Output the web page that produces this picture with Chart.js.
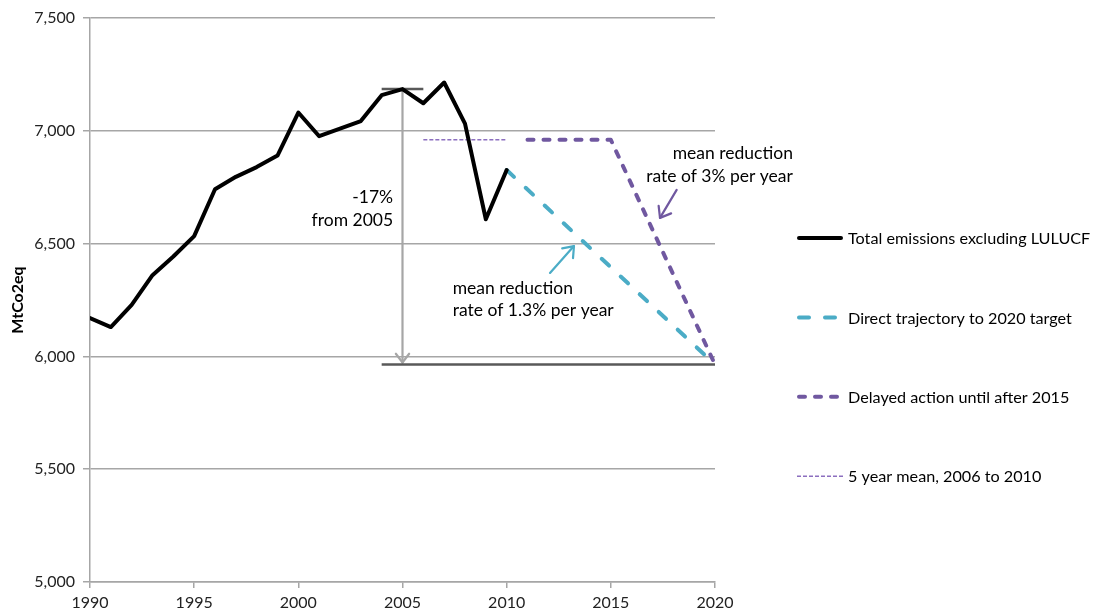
<!DOCTYPE html>
<html>
<head>
<meta charset="utf-8">
<script src="https://cdn.jsdelivr.net/npm/chart.js@4.4.1/dist/chart.umd.min.js"></script>
<style>
html,body{margin:0;padding:0;background:#fff;}
#wrap{width:1097px;height:614px;}
</style>
</head>
<body>
<div id="wrap"><canvas id="c" width="1097" height="614"></canvas></div>
<script>
// ---- data ----
const years = [1990,1991,1992,1993,1994,1995,1996,1997,1998,1999,2000,2001,2002,2003,2004,2005,2006,2007,2008,2009,2010];
const totalEmissions = [6170,6130,6228,6360,6443,6533,6741,6796,6839,6890,7081,6976,7010,7043,7158,7185,7122,7214,7032,6608,6826];
const directYears = [2010, 2020];
const directValues = [6826, 5964];
const delayedYears = [2011, 2015, 2020];
const delayedValues = [6960, 6960, 5964];
const meanYears = [2006, 2010];
const meanValues = [6960, 6960];
const baseYear = 2005;
const baseValue = 7185;
const targetValue = 5964;
const xTicks = [1990,1995,2000,2005,2010,2015,2020];
const yTicks = [5000,5500,6000,6500,7000,7500];
const seriesNames = ['Total emissions excluding LULUCF','Direct trajectory to 2020 target','Delayed action until after 2015','5 year mean, 2006 to 2010'];

const pts = (xs, ys) => xs.map((x, i) => ({x: x, y: ys[i]}));
const FONT = 'Lato, "Open Sans", sans-serif';

const datasets = [
  {label: seriesNames[0], data: pts(years, totalEmissions), borderColor: '#000000', borderWidth: 4, borderJoinStyle: 'round', borderCapStyle: 'round'},
  {label: seriesNames[1], data: pts(directYears, directValues), borderColor: '#4bacc6', borderWidth: 4, borderDash: [10, 16], borderCapStyle: 'round'},
  {label: seriesNames[2], data: pts(delayedYears, delayedValues), borderColor: '#7058a0', borderWidth: 4, borderDash: [6, 10], borderCapStyle: 'round', borderJoinStyle: 'round'},
  {label: seriesNames[3], data: pts(meanYears, meanValues), borderColor: '#8c6fbf', borderWidth: 1.5, borderDash: [4, 2]}
];
datasets.forEach(d => { d.pointRadius = 0; d.fill = false; d.tension = 0; });

function arrow(ctx, x1, y1, x2, y2, color, w, head) {
  ctx.save();
  ctx.strokeStyle = color; ctx.lineWidth = w; ctx.lineCap = 'round'; ctx.lineJoin = 'round';
  ctx.beginPath(); ctx.moveTo(x1, y1); ctx.lineTo(x2, y2); ctx.stroke();
  const a = Math.atan2(y2 - y1, x2 - x1);
  const s = 0.65;
  ctx.beginPath();
  ctx.moveTo(x2 - head * Math.cos(a - s), y2 - head * Math.sin(a - s));
  ctx.lineTo(x2, y2);
  ctx.lineTo(x2 - head * Math.cos(a + s), y2 - head * Math.sin(a + s));
  ctx.stroke();
  ctx.restore();
}

const annot = {
  id: 'annot',
  beforeDatasetsDraw(chart) {
    const ctx = chart.ctx, xs = chart.scales.x, ys = chart.scales.y;
    const X = v => xs.getPixelForValue(v), Y = v => ys.getPixelForValue(v);
    ctx.save();
    arrow(ctx, X(baseYear), Y(baseValue), X(baseYear), Y(targetValue) - 2, '#a6a6a6', 2.2, 11);
    ctx.strokeStyle = '#595959'; ctx.lineWidth = 2.5;
    ctx.beginPath(); ctx.moveTo(X(baseYear - 1), Y(baseValue)); ctx.lineTo(X(baseYear + 1), Y(baseValue)); ctx.stroke();
    ctx.beginPath(); ctx.moveTo(X(baseYear - 1), Y(targetValue)); ctx.lineTo(X(2020), Y(targetValue)); ctx.stroke();
    ctx.restore();
  },
  afterDraw(chart) {
    const ctx = chart.ctx, xs = chart.scales.x, ys = chart.scales.y;
    const X = v => xs.getPixelForValue(v), Y = v => ys.getPixelForValue(v);
    ctx.save();
    ctx.font = '17.5px ' + FONT;
    ctx.fillStyle = '#000';
    ctx.textBaseline = 'middle';
    // -17% text
    ctx.textAlign = 'right';
    ctx.fillText('-17%', X(2004.55), Y(6705));
    ctx.fillText('from 2005', X(2004.55), Y(6603));
    // cyan note
    ctx.textAlign = 'left';
    ctx.fillText('mean reduction', X(2007.41), Y(6303));
    ctx.fillText('rate of 1.3% per year', X(2007.41), Y(6203));
    arrow(ctx, X(2012.08), Y(6370), X(2013.23), Y(6489), '#4bacc6', 2.2, 12);
    // purple note
    ctx.textAlign = 'right';
    ctx.fillText('mean reduction', X(2023.74), Y(6901));
    ctx.fillText('rate of 3% per year', X(2023.74), Y(6800));
    arrow(ctx, X(2018.16), Y(6738), X(2017.36), Y(6614), '#7058a0', 2.2, 12);
    // legend
    const lx0 = 797, lx1 = 843, ly0 = 238, dy = 79.4;
    chart.data.datasets.forEach((d, i) => {
      const y = ly0 + i * dy;
      const r = d.borderCapStyle === 'round' ? 2 : 0;
      ctx.save();
      ctx.strokeStyle = d.borderColor; ctx.lineWidth = d.borderWidth;
      ctx.lineCap = d.borderCapStyle || 'butt';
      ctx.setLineDash(d.borderDash || []);
      ctx.beginPath(); ctx.moveTo(lx0 + r, y); ctx.lineTo(lx1 - r, y); ctx.stroke();
      ctx.restore();
      ctx.textAlign = 'left';
      ctx.fillStyle = '#000';
      ctx.font = '16.2px ' + FONT;
      ctx.fillText(d.label, 848, y + 1);
    });
    ctx.restore();
  }
};

new Chart(document.getElementById('c'), {
  type: 'line',
  data: {datasets: datasets},
  options: {
    responsive: false,
    animation: false,
    devicePixelRatio: 1,
    layout: {padding: {top: 18, right: 382, left: 0, bottom: 0}},
    plugins: {legend: {display: false}, tooltip: {enabled: false}},
    scales: {
      x: {
        type: 'linear', min: 1990, max: 2020,
        afterBuildTicks: s => { s.ticks = xTicks.map(v => ({value: v})); },
        afterFit: s => { s.height = 32; },
        grid: {drawOnChartArea: false, drawTicks: true, tickLength: 6, color: '#a6a6a6', lineWidth: 1.5},
        border: {color: '#a6a6a6', width: 1.5},
        ticks: {color: '#222', font: {family: FONT, size: 16}, padding: 5, maxRotation: 0, autoSkip: false, callback: v => String(v)}
      },
      y: {
        min: 5000, max: 7500,
        afterBuildTicks: s => { s.ticks = yTicks.map(v => ({value: v})); },
        afterFit: s => { s.width = 90; },
        grid: {drawOnChartArea: true, drawTicks: true, tickLength: 7, color: '#a6a6a6', lineWidth: 1.5},
        border: {color: '#a6a6a6', width: 1.5},
        ticks: {color: '#222', font: {family: FONT, size: 16}, padding: 8, callback: v => v.toLocaleString('en-US')},
        title: {display: true, text: 'MtCo2eq', color: '#000', font: {family: FONT, size: 16, weight: 'bold'}, padding: {top: 8, bottom: 0}}
      }
    }
  },
  plugins: [annot]
});
</script>
</body>
</html>
